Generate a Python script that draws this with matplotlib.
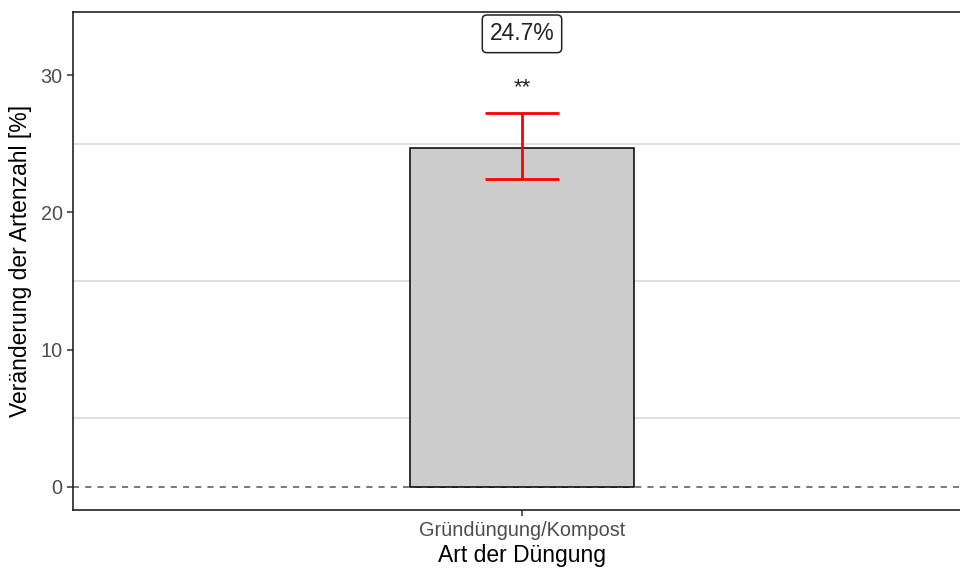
import matplotlib
matplotlib.use("Agg")
import matplotlib.pyplot as plt

plt.rcParams['font.family'] = ['Liberation Sans', 'DejaVu Sans']

categories = ["Gründüngung/Kompost"]
change_pct = [24.7]
ci_lower = [22.4]
ci_upper = [27.2]
significance = ["**"]
label_y = 33.0
star_y = 29.1
grid_levels = [5, 15, 25]
yticks = [0, 10, 20, 30]

fig = plt.figure(figsize=(9.6, 5.68), dpi=100)
ax = fig.add_axes([73 / 960, 1 - 510 / 568, (971 - 73) / 960, (510 - 12) / 568])

x = [1 + i for i in range(len(categories))]

for g in grid_levels:
    ax.axhline(g, color="#d9d9d9", lw=1.2, zorder=0)
ax.axhline(0, color="#555555", lw=1.1, ls=(0, (4, 4)), zorder=1)

ax.bar(x, change_pct, width=0.3, color="#cccccc", edgecolor="black", linewidth=1.1, zorder=2)

for xi, v, lo, hi in zip(x, change_pct, ci_lower, ci_upper):
    ax.errorbar([xi], [v], yerr=[[v - lo], [hi - v]], fmt="none", ecolor="red",
                elinewidth=2.0, capsize=0, zorder=3)
    ax.hlines([lo, hi], xi - 0.05, xi + 0.05, colors="red", lw=2.0, zorder=3)

for xi, s in zip(x, significance):
    ax.text(xi, star_y, s, ha="center", va="center", fontsize=16, color="#222222")

for xi, v in zip(x, change_pct):
    ax.text(xi, label_y, f"{v:.1f}%", ha="center", va="center", fontsize=16.5, color="#222222",
            bbox=dict(boxstyle="round,pad=0.32,rounding_size=0.2", fc="white", ec="#222222", lw=1.1))

ax.set_xlim(0.4, 1.6)
ax.set_ylim(-1.675, 34.59)
ax.set_xticks(x)
ax.set_xticklabels(categories)
ax.set_yticks(yticks)
ax.tick_params(axis="both", colors="#333333", labelcolor="#4d4d4d", labelsize=14.3, length=4, width=1.1)
ax.tick_params(axis="x", pad=4)
for sp in ax.spines.values():
    sp.set_linewidth(1.2)
    sp.set_color("#222222")

ax.set_xlabel("Art der Düngung", fontsize=16.5, labelpad=3)
ax.set_ylabel("Veränderung der Artenzahl [%]", fontsize=16.5, labelpad=6)

fig.savefig("out.png", dpi=100)
